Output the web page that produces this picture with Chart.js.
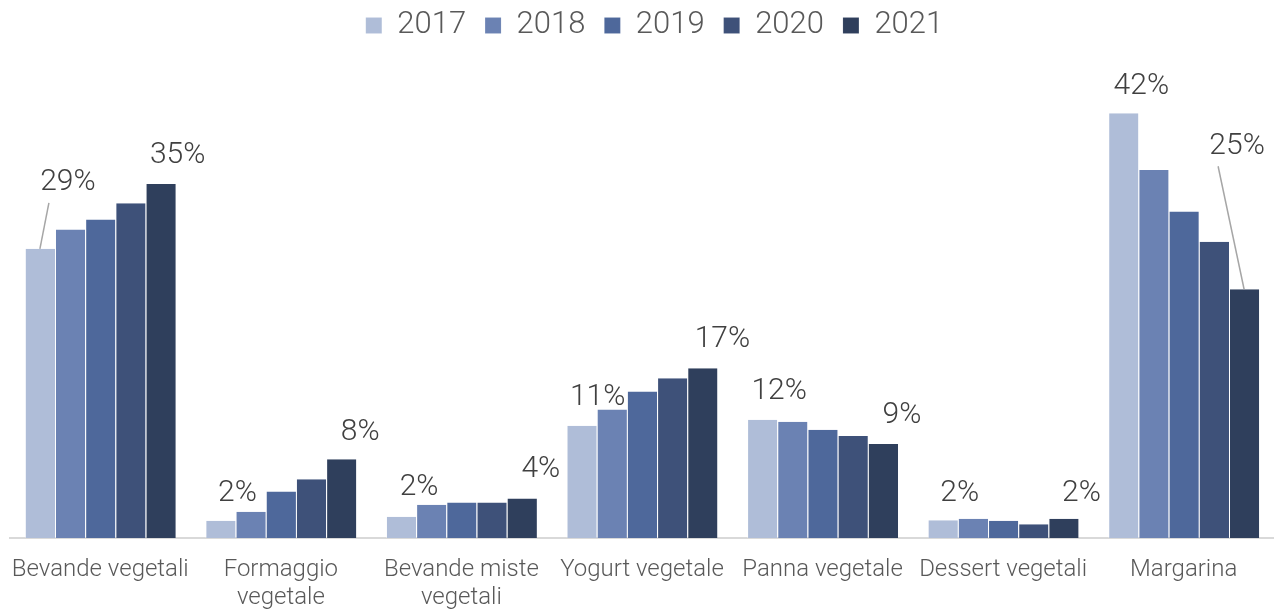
<!DOCTYPE html>
<html>
<head>
<meta charset="utf-8">
<script src="https://cdn.jsdelivr.net/npm/chart.js@4.4.1/dist/chart.umd.min.js"></script>
<style>
  html, body { margin: 0; padding: 0; background: #fff; }
  #wrap { width: 1274px; height: 611px; }
</style>
</head>
<body>
<div id="wrap"><canvas id="myChart" width="1274" height="611"></canvas></div>
<script>
const categories = [
    'Bevande vegetali',
    ['Formaggio', 'vegetale'],
    ['Bevande miste', 'vegetali'],
    'Yogurt vegetale',
    'Panna vegetale',
    'Dessert vegetali',
    'Margarina'
];
const years = ['2017', '2018', '2019', '2020', '2021'];

// shares in %, one array per year
const values2017 = [28.6, 1.7, 2.1, 11.1, 11.7, 1.75, 42.0];
const values2018 = [30.5, 2.6, 3.3, 12.7, 11.5, 1.9, 36.4];
const values2019 = [31.5, 4.6, 3.5, 14.5, 10.7, 1.7, 32.3];
const values2020 = [33.1, 5.8, 3.5, 15.8, 10.1, 1.35, 29.3];
const values2021 = [35.0, 7.8, 3.9, 16.8, 9.3, 1.9, 24.6];

const colors = ['#afbdd8', '#6b82b3', '#4e689b', '#3e5179', '#2f3f5c'];

// which bars carry a label: [dataset, category, dx, dy, leader line]
const labelPoints = [
    [0, 0, 28, -66, true], [4, 0, 17, -29, false],
    [0, 1, 17, -27, false], [4, 1, 19, -27, false],
    [0, 2, 18, -29, false], [4, 2, 19, -29, false],
    [0, 3, 16, -28, false], [4, 3, 20, -29, false],
    [0, 4, 17, -28, false], [4, 4, 19, -28, false],
    [0, 5, 17, -27, false], [4, 5, 18, -25, false],
    [0, 6, 18, -27, false], [4, 6, -7, -143, true]
];

const ctx = document.getElementById('myChart');
const allValues = [values2017, values2018, values2019, values2020, values2021];

const barLabels = {
    id: 'barLabels',
    afterDatasetsDraw(chart) {
        const c = chart.ctx;
        c.save();
        c.font = '300 30px Roboto';
        c.fillStyle = '#404040';
        c.textAlign = 'center';
        c.textBaseline = 'middle';
        labelPoints.forEach(p => {
            const bar = chart.getDatasetMeta(p[0]).data[p[1]];
            const v = chart.data.datasets[p[0]].data[p[1]];
            const lx = bar.x + p[2];
            const ly = bar.y + p[3];
            if (p[4]) {
                // leader from the bar top to the lower left of the text
                c.strokeStyle = '#a6a6a6';
                c.lineWidth = 1.5;
                c.beginPath();
                c.moveTo(bar.x, bar.y);
                c.lineTo(lx - 19, ly + 20);
                c.stroke();
            }
            c.fillText(Math.round(v) + '%', lx, ly);
        });
        c.restore();
    }
};

const legendPlace = {
    id: 'legendPlace',
    beforeInit(chart) {
        const fit = chart.legend.fit;
        chart.legend.fit = function () {
            fit.call(this);
            this.height = 83;
        };
    },
    afterLayout(chart) {
        chart.legend.top -= 9;
        chart.legend.left += 25;
    }
};

new Chart(ctx, {
    type: 'bar',
    data: {
        labels: categories,
        datasets: years.map((y, i) => ({
            label: y,
            data: allValues[i],
            backgroundColor: colors[i],
            borderColor: 'rgba(255,255,255,0.35)',
            borderWidth: { left: 1, right: 0, top: 0, bottom: 0 },
            categoryPercentage: 0.836,
            barPercentage: 1.0
        }))
    },
    options: {
        responsive: false,
        animation: false,
        layout: { padding: { left: 10, right: 0, top: 0, bottom: 0 } },
        plugins: {
            legend: {
                position: 'top',
                labels: {
                    boxWidth: 16,
                    boxHeight: 16,
                    padding: 19,
                    color: '#595959',
                    font: { family: 'Roboto', size: 31, weight: '300' }
                }
            },
            tooltip: { enabled: false }
        },
        scales: {
            x: {
                grid: { display: false, drawTicks: false },
                border: { color: '#d9d9d9', width: 2 },
                ticks: {
                    color: '#595959',
                    padding: 18,
                    maxRotation: 0,
                    autoSkip: false,
                    font: { family: 'Roboto', size: 24, weight: '300', lineHeight: 1.18 }
                },
                afterFit(scale) {
                    scale.height = 73;
                    scale.paddingLeft = 0;
                    scale.paddingRight = 0;
                }
            },
            y: {
                display: false,
                min: 0,
                max: 45
            }
        }
    },
    plugins: [legendPlace, barLabels]
});
</script>
</body>
</html>
